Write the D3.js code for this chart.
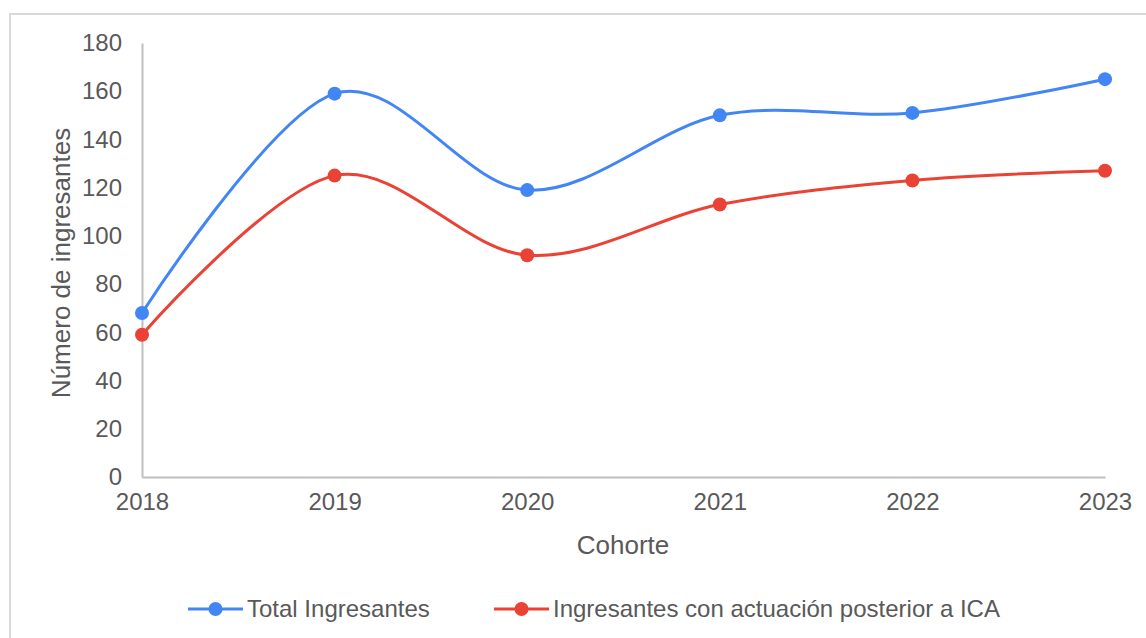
<!DOCTYPE html>
<html>
<head>
<meta charset="utf-8">
<script src="https://cdn.jsdelivr.net/npm/d3@7"></script>
<style>
  body { margin: 0; background: #fff; }
  text { font-family: "Liberation Sans", Arial, sans-serif; fill: #595959; }
</style>
</head>
<body>
<svg width="1146" height="638"></svg>
<script>
var years = ["2018", "2019", "2020", "2021", "2022", "2023"];
var totalIngresantes = [68, 159, 119, 150, 151, 165];
var conActuacion = [59, 125, 92, 113, 123, 127];
var yTicks = [0, 20, 40, 60, 80, 100, 120, 140, 160, 180];

var series = [
    { name: "Total Ingresantes", color: "#4285F4", values: totalIngresantes },
    { name: "Ingresantes con actuación posterior a ICA", color: "#EA4335", values: conActuacion }
];

var svg = d3.select("svg");

// outer frame (cut off at right/bottom like the screenshot)
svg.append("rect")
    .attr("x", 10).attr("y", 14)
    .attr("width", 1160).attr("height", 660)
    .attr("fill", "none")
    .attr("stroke", "#d9d9d9")
    .attr("stroke-width", 2);

var x = d3.scalePoint().domain(years).range([142, 1105]);
var y = d3.scaleLinear().domain([0, 180]).range([477, 43]);

// y axis
var yAxis = svg.append("g")
    .attr("transform", "translate(142,0)")
    .call(d3.axisLeft(y).tickValues(yTicks).tickSize(0).tickPadding(20));
yAxis.select(".domain").attr("stroke", "#bfbfbf").attr("stroke-width", 2);
yAxis.selectAll("text").style("font-size", "24px").style("fill", "#595959");

// x axis
var xAxis = svg.append("g")
    .attr("transform", "translate(0,477)")
    .call(d3.axisBottom(x).tickSize(0).tickPadding(16));
xAxis.select(".domain").attr("stroke", "#bfbfbf").attr("stroke-width", 2);
xAxis.selectAll("text").style("font-size", "24px").style("fill", "#595959");

// axis titles
svg.append("text")
    .attr("x", 623).attr("y", 554)
    .attr("text-anchor", "middle")
    .style("font-size", "26px")
    .text("Cohorte");

svg.append("text")
    .attr("transform", "translate(70,263) rotate(-90)")
    .attr("text-anchor", "middle")
    .style("font-size", "26px")
    .text("Número de ingresantes");

var line = d3.line()
    .x(function (d, i) { return x(years[i]); })
    .y(function (d) { return y(d); })
    .curve(d3.curveCatmullRom.alpha(0));

series.forEach(function (s) {
    svg.append("path")
        .datum(s.values)
        .attr("d", line)
        .attr("fill", "none")
        .attr("stroke", s.color)
        .attr("stroke-width", 3);

    svg.append("g")
        .selectAll("circle")
        .data(s.values)
        .enter().append("circle")
        .attr("cx", function (d, i) { return x(years[i]); })
        .attr("cy", function (d) { return y(d); })
        .attr("r", 7)
        .attr("fill", s.color);
});

// legend
var legendPos = [188, 494];
var legend = svg.append("g")
    .selectAll("g")
    .data(series)
    .enter().append("g")
    .attr("transform", function (d, i) { return "translate(" + legendPos[i] + ",609)"; });

legend.append("line")
    .attr("x1", 0).attr("x2", 55)
    .attr("stroke", function (d) { return d.color; })
    .attr("stroke-width", 3);
legend.append("circle")
    .attr("cx", 27.5).attr("r", 7)
    .attr("fill", function (d) { return d.color; });
legend.append("text")
    .attr("x", 59).attr("dy", "0.35em")
    .style("font-size", "24px")
    .text(function (d) { return d.name; });
</script>
</body>
</html>
